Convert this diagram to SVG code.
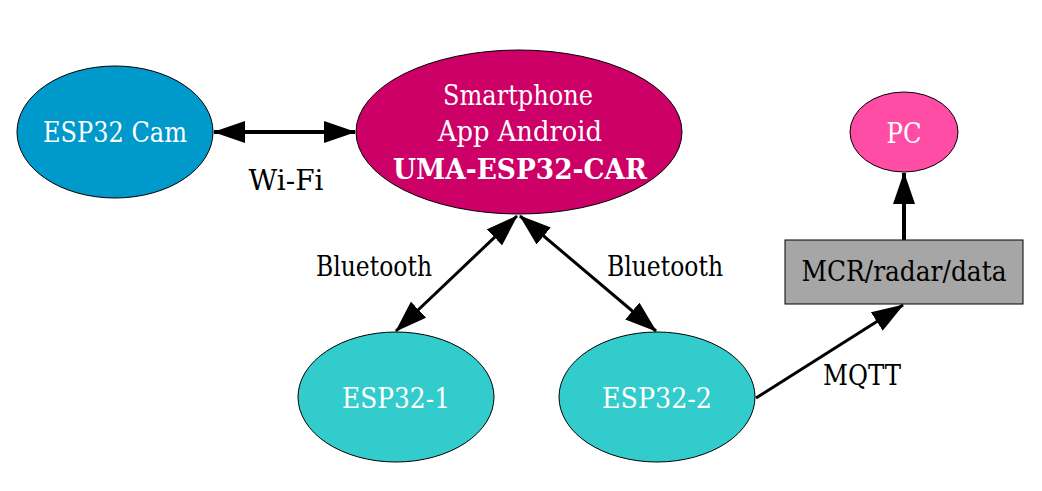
<svg xmlns="http://www.w3.org/2000/svg" width="1042" height="491" viewBox="0 0 1042 491">
<style>
  text { font-family: "DejaVu Serif", "Liberation Serif", serif; font-size: 28px; text-anchor: middle; }
  .w { fill: #ffffff; }
  .k { fill: #000000; }
  .node { stroke: #000000; stroke-width: 1; }
  .edge { stroke: #000000; stroke-width: 4; fill: none; }
  .thin { stroke-width: 3; }
</style>
<defs>
  <marker id="ah" markerUnits="userSpaceOnUse" markerWidth="32" markerHeight="22" refX="31" refY="11" orient="auto-start-reverse" viewBox="0 0 32 22">
    <path d="M0,0 L32,11 L0,22 Z" fill="#000"/>
  </marker>
</defs>
<rect width="1042" height="491" fill="#ffffff"/>
<g id="connectors">
  <line class="edge" x1="214" y1="132" x2="355" y2="132" marker-start="url(#ah)" marker-end="url(#ah)"/>
  <line class="edge thin" x1="517" y1="216" x2="396" y2="331" marker-start="url(#ah)" marker-end="url(#ah)"/>
  <line class="edge thin" x1="520" y1="216" x2="656" y2="331" marker-start="url(#ah)" marker-end="url(#ah)"/>
  <line class="edge" x1="904" y1="240" x2="904" y2="173" marker-end="url(#ah)"/>
  <line class="edge thin" x1="756" y1="398" x2="903" y2="305" marker-end="url(#ah)"/>
  <text class="k" x="286" y="190" textLength="75" lengthAdjust="spacingAndGlyphs">Wi-Fi</text>
  <text class="k" x="374" y="276" textLength="116" lengthAdjust="spacingAndGlyphs">Bluetooth</text>
  <text class="k" x="665" y="276" textLength="116" lengthAdjust="spacingAndGlyphs">Bluetooth</text>
  <text class="k" x="862" y="385" textLength="78" lengthAdjust="spacingAndGlyphs">MQTT</text>
</g>
<g id="esp32cam">
  <ellipse class="node" cx="115" cy="132" rx="98" ry="66" fill="#0099cc"/>
  <text class="w" x="115" y="142" textLength="144" lengthAdjust="spacingAndGlyphs">ESP32 Cam</text>
</g>
<g id="smartphone">
  <ellipse class="node" cx="519" cy="132" rx="163" ry="82" fill="#cc0066"/>
  <text class="w" x="518" y="105" textLength="150" lengthAdjust="spacingAndGlyphs">Smartphone</text>
  <text class="w" x="520" y="141" textLength="164" lengthAdjust="spacingAndGlyphs">App Android</text>
  <text class="w" x="520" y="179" textLength="254" lengthAdjust="spacingAndGlyphs" style="font-weight:bold">UMA-ESP32-CAR</text>
</g>
<g id="pc">
  <ellipse class="node" cx="904" cy="132" rx="54" ry="40" fill="#ff4da6"/>
  <text class="w" x="904" y="143" textLength="35" lengthAdjust="spacingAndGlyphs">PC</text>
</g>
<g id="mcr">
  <rect class="node" x="785" y="240" width="238" height="64" fill="#a6a6a6"/>
  <text class="k" x="904" y="281" textLength="205" lengthAdjust="spacingAndGlyphs">MCR/radar/data</text>
</g>
<g id="esp32-1">
  <ellipse class="node" cx="396" cy="397" rx="98" ry="65" fill="#33cccc"/>
  <text class="w" x="396" y="408" textLength="108" lengthAdjust="spacingAndGlyphs">ESP32-1</text>
</g>
<g id="esp32-2">
  <ellipse class="node" cx="657" cy="397" rx="98" ry="65" fill="#33cccc"/>
  <text class="w" x="657" y="408" textLength="110" lengthAdjust="spacingAndGlyphs">ESP32-2</text>
</g>
</svg>
